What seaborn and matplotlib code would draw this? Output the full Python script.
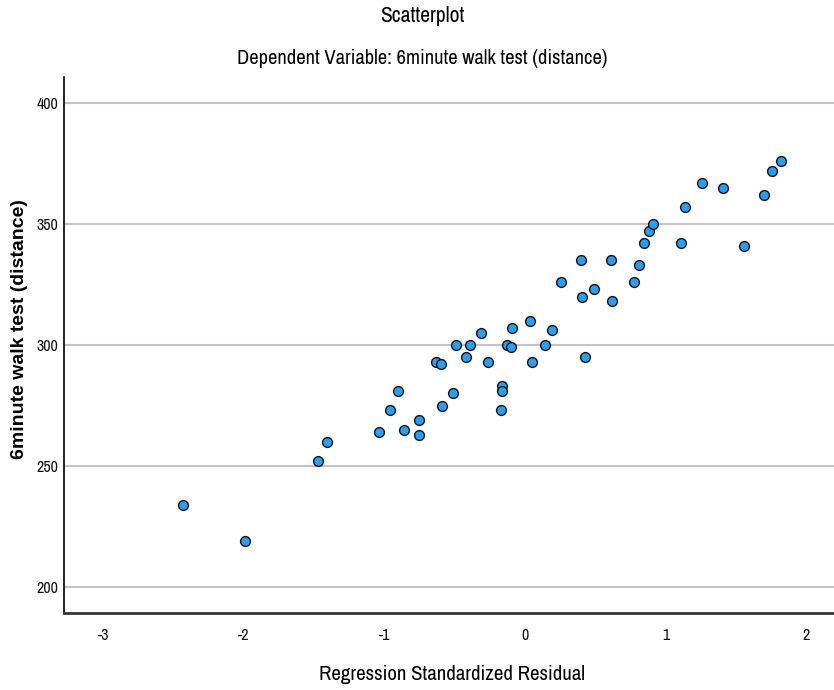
import pandas as pd
import seaborn as sns
import matplotlib.pyplot as plt

std_residual = [-2.43, -1.99, -1.47, -1.41, -1.04, -0.96, -0.90, -0.86, -0.75, -0.75,
                -0.59, -0.51, -0.49, -0.39, -0.42, -0.63, -0.60, -0.26, -0.31, -0.16,
                -0.16, -0.17, -0.13, -0.10, -0.09, 0.04, 0.05, 0.14, 0.19, 0.43,
                0.26, 0.41, 0.49, 0.62, 0.40, 0.61, 0.78, 0.81, 0.85, 0.88,
                0.91, 1.11, 1.14, 1.56, 1.26, 1.41, 1.70, 1.76, 1.82]
walk_distance = [234, 219, 252, 260, 264, 273, 281, 265, 269, 263,
                 275, 280, 300, 300, 295, 293, 292, 293, 305, 283,
                 281, 273, 300, 299, 307, 310, 293, 300, 306, 295,
                 326, 320, 323, 318, 335, 335, 326, 333, 342, 347,
                 350, 342, 357, 341, 367, 365, 362, 372, 376]
x_ticks = [-3, -2, -1, 0, 1, 2]
y_ticks = [200, 250, 300, 350, 400]

df = pd.DataFrame({'resid': std_residual, 'dist': walk_distance})

sns.set_style('white')
plt.rcParams['font.family'] = ['Archivo Narrow', 'DejaVu Sans']
plt.rcParams['axes.unicode_minus'] = False

fig = plt.figure(figsize=(8.34, 6.90), dpi=100)
ax = fig.add_axes([64 / 834, 1 - 613 / 690, 770 / 834, 536 / 690])

ax.grid(axis='y', color='#c4c4c4', linewidth=1.5, zorder=0)
ax.set_axisbelow(True)
sns.scatterplot(x='resid', y='dist', data=df, ax=ax, s=50, color='#2a9ff0',
                edgecolor='#111111', linewidth=1.0, zorder=3)

ax.set_xlim(-3.28, 2.2)
ax.set_ylim(189.3, 410.7)
ax.set_xticks(x_ticks)
ax.set_yticks(y_ticks)
ax.tick_params(axis='both', labelsize=11.5, length=0, colors='#111111')
ax.tick_params(axis='x', pad=11)
ax.tick_params(axis='y', pad=4)

for side in ['top', 'right']:
    ax.spines[side].set_visible(False)
ax.spines['left'].set_color('black')
ax.spines['left'].set_linewidth(1.2)
ax.spines['bottom'].set_color('#333333')
ax.spines['bottom'].set_linewidth(2.0)

ax.set_xlabel('Regression Standardized Residual', fontsize=15, color='black')
ax.xaxis.set_label_coords((452 - 64) / 770, -(674 - 613) / 536)
ax.xaxis.label.set_va('center')
ax.set_ylabel('6minute walk test (distance)', fontsize=14, fontweight='bold', color='black',
              family=['Liberation Sans', 'DejaVu Sans'])
ax.yaxis.set_label_coords(-(64 - 20) / 770, (613 - 329) / 536)
ax.yaxis.label.set_va('center')

fig.text(422 / 834, 1 - 16 / 690, 'Scatterplot', ha='center', va='center',
         fontsize=15.5, color='black')
fig.text(422 / 834, 1 - 58 / 690, 'Dependent Variable: 6minute walk test (distance)',
         ha='center', va='center', fontsize=14.8, color='black')

fig.savefig('out.png', dpi=100)
plt.close()
